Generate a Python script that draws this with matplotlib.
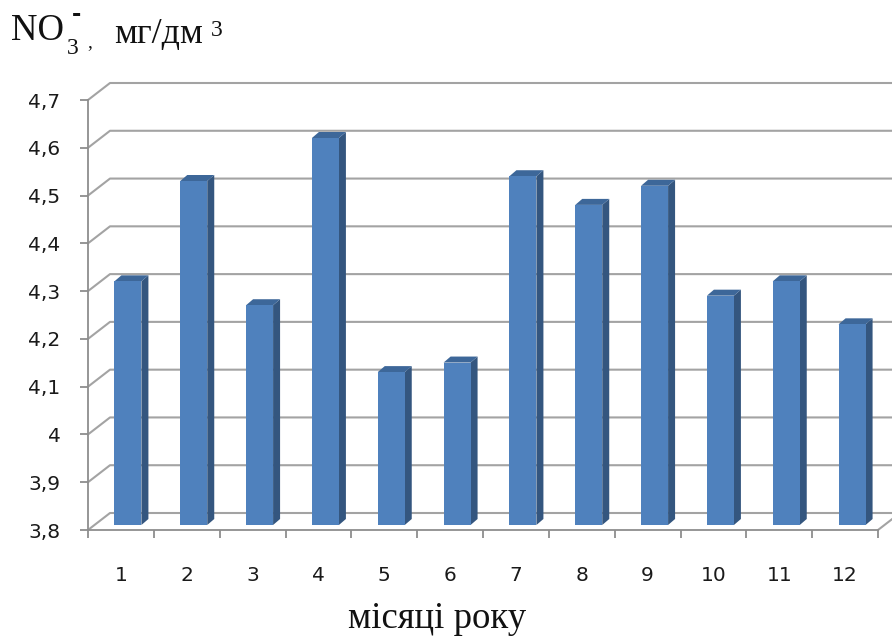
import numpy as np
import matplotlib
matplotlib.use("Agg")
import matplotlib.pyplot as plt
from matplotlib.patches import Polygon
from matplotlib.lines import Line2D
from matplotlib.transforms import IdentityTransform

# Monthly nitrate concentration, mg/dm3
months = [1, 2, 3, 4, 5, 6, 7, 8, 9, 10, 11, 12]
month_labels = ["1", "2", "3", "4", "5", "6", "7", "8", "9", "10", "11", "12"]
no3_values = [4.31, 4.52, 4.26, 4.61, 4.12, 4.14, 4.53, 4.47, 4.51, 4.28, 4.31, 4.22]
y_ticks = [3.8, 3.9, 4.0, 4.1, 4.2, 4.3, 4.4, 4.5, 4.6, 4.7]
y_tick_labels = ["3,8", "3,9", "4", "4,1", "4,2", "4,3", "4,4", "4,5", "4,6", "4,7"]

W, H = 892, 639
fig = plt.figure(figsize=(W / 100, H / 100), dpi=100)
fig.patch.set_facecolor("white")
ax = fig.add_axes([88 / W, 109 / H, 790 / W, 430 / H])
ax.set_xlim(0.5, 12.5)
ax.set_ylim(3.8, 4.7)
ax.set_facecolor("none")

grid_col = "#A3A3A3"
axis_col = "#8E8E8E"
front_col = "#4F81BD"
side_col = "#34567F"
top_col = "#3D6799"

# pixel depth vectors for the pseudo-3D projection
wall_d = np.array([22.0, 17.0])
bar_d0 = np.array([7.0, 5.0])
bar_d1 = np.array([14.0, 11.0])


def px(x, y, d=(0.0, 0.0)):
    return ax.transData.transform((x, y)) + np.asarray(d)


ident = IdentityTransform()

# side wall and back wall gridlines
for yv in y_ticks:
    pts = np.array([px(0.5, yv), px(0.5, yv, wall_d), px(12.5, yv, wall_d) + [30, 0]])
    ax.add_line(Line2D(pts[:, 0], pts[:, 1], transform=ident, color=grid_col,
                       lw=1.5, clip_on=False, zorder=1))
# right edge of the floor
pts = np.array([px(12.5, 3.8), px(12.5, 3.8, wall_d)])
ax.add_line(Line2D(pts[:, 0], pts[:, 1], transform=ident, color=grid_col,
                   lw=1.5, clip_on=False, zorder=1))

# columns
half_w = 0.205
for m, v in zip(months, no3_values):
    l, r = m - half_w, m + half_w
    front = [px(l, 3.8, bar_d0), px(r, 3.8, bar_d0), px(r, v, bar_d0), px(l, v, bar_d0)]
    side = [px(r, 3.8, bar_d0), px(r, 3.8, bar_d1), px(r, v, bar_d1), px(r, v, bar_d0)]
    top = [px(l, v, bar_d0), px(r, v, bar_d0), px(r, v, bar_d1), px(l, v, bar_d1)]
    for poly, col in ((side, side_col), (top, top_col), (front, front_col)):
        ax.add_patch(Polygon(poly, closed=True, transform=ident, facecolor=col,
                             edgecolor="none", clip_on=False, zorder=3))

# axes, ticks and labels
for s in ("top", "right"):
    ax.spines[s].set_visible(False)
for s in ("left", "bottom"):
    ax.spines[s].set_color(axis_col)
    ax.spines[s].set_linewidth(1.3)

ax.set_yticks(y_ticks)
ax.set_yticklabels(y_tick_labels)
ax.tick_params(axis="y", length=5.8, width=1.3, color=axis_col, pad=14,
               labelsize=14.5, labelcolor="#1A1A1A")
ax.set_xticks(np.arange(0.5, 13.0, 1.0))
ax.set_xticklabels([])
ax.set_xticks(months, minor=True)
ax.set_xticklabels(month_labels, minor=True)
ax.tick_params(axis="x", which="major", length=5.8, width=1.3, color=axis_col)
ax.tick_params(axis="x", which="minor", length=0, pad=26, labelsize=14.5,
               labelcolor="#1A1A1A")
for lab in ax.get_yticklabels() + ax.get_xticklabels(minor=True):
    lab.set_family("DejaVu Sans")

# unit label in the top-left corner
serif = "Liberation Serif"


def ftext(x, y, s, size, **kw):
    fig.text(x / W, 1 - y / H, s, fontsize=size, family=serif, color="#111111",
             va="baseline", ha="left", **kw)


ftext(11, 40, "NO", 26.5)
ftext(67, 54, "3", 17)
fig.text(72 / W, 1 - 22 / H, "-", fontsize=20, family="Liberation Sans",
         weight="bold", color="#111111", va="baseline", ha="left")
ftext(87, 47, ",", 14)
ftext(114, 43, "мг/дм", 26)
ftext(211, 36, "3", 17)

fig.text(437 / W, 1 - 628 / H, "місяці року", fontsize=26.5, family=serif,
         color="#111111", ha="center", va="baseline")

fig.savefig("out.png", dpi=100)
